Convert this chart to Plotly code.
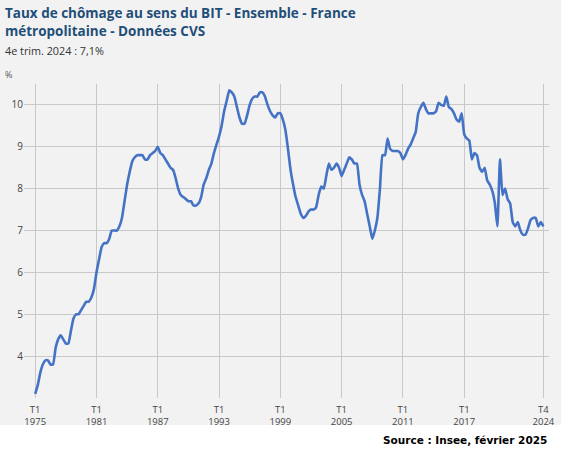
import pandas as pd
import plotly.graph_objects as go

# Taux de chômage BIT, France métropolitaine, CVS, trimestriel 1975T1 -> 2024T4
START_QUARTER = "1975-01-01"
RATES = [
    3.1, 3.3, 3.6, 3.8,      # 1975
    3.9, 3.9, 3.8, 3.8,      # 1976
    4.2, 4.4, 4.5, 4.4,      # 1977
    4.3, 4.3, 4.6, 4.9,      # 1978
    5.0, 5.0, 5.1, 5.2,      # 1979
    5.3, 5.3, 5.4, 5.6,      # 1980
    6.0, 6.3, 6.6, 6.7,      # 1981
    6.7, 6.8, 7.0, 7.0,      # 1982
    7.0, 7.1, 7.3, 7.7,      # 1983
    8.1, 8.4, 8.65, 8.75,    # 1984
    8.8, 8.8, 8.8, 8.7,      # 1985
    8.7, 8.8, 8.85, 8.9,     # 1986
    9.0, 8.85, 8.8, 8.7,     # 1987
    8.6, 8.5, 8.45, 8.25,    # 1988
    8.0, 7.85, 7.8, 7.75,    # 1989
    7.7, 7.7, 7.6, 7.6,      # 1990
    7.65, 7.8, 8.1, 8.25,    # 1991
    8.45, 8.6, 8.85, 9.05,   # 1992
    9.25, 9.5, 9.85, 10.1,   # 1993
    10.35, 10.3, 10.2, 9.95, # 1994
    9.7, 9.55, 9.55, 9.75,   # 1995
    10.0, 10.15, 10.2, 10.2, # 1996
    10.3, 10.3, 10.2, 10.0,  # 1997
    9.85, 9.75, 9.7, 9.8,    # 1998
    9.8, 9.65, 9.4, 8.95,    # 1999
    8.45, 8.1, 7.8, 7.6,     # 2000
    7.4, 7.3, 7.35, 7.45,    # 2001
    7.5, 7.5, 7.55, 7.85,    # 2002
    8.05, 8.0, 8.3, 8.6,     # 2003
    8.45, 8.5, 8.6, 8.5,     # 2004
    8.3, 8.45, 8.6, 8.75,    # 2005
    8.7, 8.6, 8.6, 8.1,      # 2006
    7.85, 7.7, 7.4, 7.1,     # 2007
    6.8, 7.0, 7.3, 8.0,      # 2008
    8.8, 8.8, 9.2, 8.95,     # 2009
    8.9, 8.9, 8.9, 8.85,     # 2010
    8.7, 8.8, 8.95, 9.05,    # 2011
    9.2, 9.35, 9.8, 9.95,    # 2012
    10.05, 9.9, 9.8, 9.8,    # 2013
    9.8, 9.85, 10.05, 10.0,  # 2014
    9.98, 10.2, 9.95, 9.9,   # 2015
    9.8, 9.65, 9.6, 9.8,     # 2016
    9.3, 9.2, 9.15, 8.7,     # 2017
    8.85, 8.8, 8.5, 8.4,     # 2018
    8.5, 8.2, 8.1, 7.95,     # 2019
    7.65, 7.1, 8.7, 7.85,    # 2020
    8.0, 7.75, 7.65, 7.2,    # 2021
    7.1, 7.2, 7.0, 6.9,      # 2022
    6.9, 7.05, 7.25, 7.3,    # 2023
    7.3, 7.1, 7.2, 7.1,      # 2024
]

TICK_DATES = ["1975-01-01", "1981-01-01", "1987-01-01", "1993-01-01", "1999-01-01",
              "2005-01-01", "2011-01-01", "2017-01-01", "2024-10-01"]
TICK_LABELS = ["T1<br>1975", "T1<br>1981", "T1<br>1987", "T1<br>1993", "T1<br>1999",
               "T1<br>2005", "T1<br>2011", "T1<br>2017", "T4<br>2024"]
Y_TICKS = [4, 5, 6, 7, 8, 9, 10]

TITLE = "Taux de chômage au sens du BIT - Ensemble - France<br>métropolitaine - Données CVS"
SUBTITLE = "4e trim. 2024 : 7,1%"
SOURCE = "Source : Insee, février 2025"

LINE_COLOR = "#4472C4"
BG_COLOR = "#f2f2f2"
GRID_COLOR = "#c8c8c8"
TITLE_COLOR = "#1f4e79"

quarters = pd.date_range(start=START_QUARTER, periods=len(RATES), freq="QS")

fig = go.Figure(
    go.Scatter(
        x=quarters, y=RATES,
        mode="lines",
        line=dict(color=LINE_COLOR, width=2.6, shape="spline", smoothing=0.4),
        hovertemplate="%{x|%Y}<br>%{y:.1f}%<extra></extra>",
    )
)

fig.update_layout(
    width=561, height=457,
    margin=dict(l=24, r=6, t=84, b=59),
    paper_bgcolor=BG_COLOR,
    plot_bgcolor=BG_COLOR,
    showlegend=False,
    font=dict(family="Open Sans, sans-serif", color="#333333"),
    xaxis=dict(
        type="date",
        range=["1973-11-27", "2025-04-20"],
        tickvals=TICK_DATES,
        ticktext=TICK_LABELS,
        tickfont=dict(size=9.5, color="#444444"),
        ticklabelstandoff=4,
        showgrid=True, gridcolor=GRID_COLOR, gridwidth=1,
        zeroline=False, showline=False, ticks="",
    ),
    yaxis=dict(
        range=[3.0, 10.5],
        tickvals=Y_TICKS,
        tickfont=dict(size=10, color="#444444"),
        showgrid=True, gridcolor=GRID_COLOR, gridwidth=1,
        zeroline=False, showline=False, ticks="",
    ),
    shapes=[
        # white strip under the chart box, where the source sits
        dict(type="rect", xref="paper", yref="paper",
             x0=-0.1, x1=1.1, y0=-0.25, y1=-0.086,
             fillcolor="white", line=dict(width=0), layer="below"),
    ],
    annotations=[
        dict(text=f"<b>{TITLE}</b>", xref="paper", yref="paper",
             x=-0.0395, y=1.262, xanchor="left", yanchor="top", align="left",
             showarrow=False, font=dict(size=13.5, color=TITLE_COLOR)),
        dict(text=SUBTITLE, xref="paper", yref="paper",
             x=-0.0395, y=1.108, xanchor="left", yanchor="middle",
             showarrow=False, font=dict(size=10.8, color="#333333")),
        dict(text="%", xref="paper", yref="paper",
             x=-0.04, y=1.029, xanchor="left", yanchor="middle",
             showarrow=False, font=dict(size=9, color="#555555")),
        dict(text=f"<b>{SOURCE}</b>", xref="paper", yref="paper",
             x=1.0, y=-0.134, xanchor="right", yanchor="middle",
             showarrow=False,
             font=dict(family="DejaVu Sans, Arial, sans-serif", size=10.5, color="black")),
    ],
)

# page body margin removed so the 561x457 figure fills the window exactly
fig.write_html("out.html", config={"displayModeBar": False},
               post_script="document.body.style.margin='0';")
